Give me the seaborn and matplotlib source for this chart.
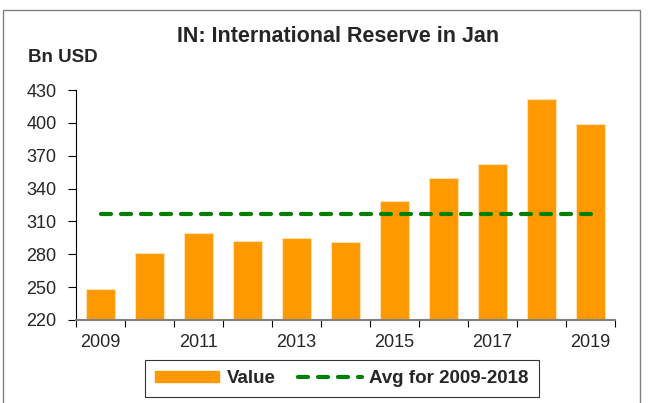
import numpy as np
import pandas as pd
import matplotlib
matplotlib.use("Agg")
import matplotlib.pyplot as plt
import matplotlib.patches as mpatches
from matplotlib.lines import Line2D
import seaborn as sns

# data (Bn USD)
years = ["2009", "2010", "2011", "2012", "2013", "2014",
         "2015", "2016", "2017", "2018", "2019"]
values = [248.5, 280.8, 299.0, 292.5, 295.3, 291.0,
          328.5, 349.3, 362.8, 421.8, 399.2]
avg_values = [317.0] * len(years)
tick_years = ["2009", "2011", "2013", "2015", "2017", "2019"]
y_ticks = [220, 250, 280, 310, 340, 370, 400, 430]

bar_color = "#FF9900"
line_color = "#008000"

sns.set_theme(style="white")
plt.rcParams['font.family'] = ['Liberation Sans', 'DejaVu Sans']

fig = plt.figure(figsize=(6.48, 4.03), dpi=100)
W, H = 648, 403
ax = fig.add_axes([76 / W, 1 - 320 / H, 539 / W, 230 / H])

df = pd.DataFrame({"Year": years, "Value": values})
sns.barplot(data=df, x="Year", y="Value", color=bar_color, saturation=1,
            width=0.58, edgecolor="#FFE0B0", linewidth=0.8, ax=ax)
ax.plot(years, avg_values, color=line_color, lw=3.0,
        linestyle=(0, (2.4, 2.4)), dash_capstyle="round", zorder=3)

ax.set_xlim(-0.5, len(years) - 0.5)
ax.set_ylim(220, 430)
ax.set_yticks(y_ticks)
ax.set_yticklabels([str(v) for v in y_ticks], fontsize=13)

# tick marks between categories, labels on every second year
ax.set_xticks(np.arange(-0.5, len(years), 1.0))
ax.set_xticklabels([])
pos = [years.index(y) for y in tick_years]
ax.set_xticks(pos, minor=True)
ax.set_xticklabels(tick_years, minor=True, fontsize=13)
ax.tick_params(axis="x", which="major", length=5, width=0.8, color="black",
               direction="out", bottom=True)
ax.tick_params(axis="x", which="minor", length=0, pad=10, bottom=True)
ax.tick_params(axis="y", length=6, width=0.8, color="black",
               direction="out", left=True, pad=8)

ax.set_xlabel("")
ax.set_ylabel("")
for s in ["top", "right"]:
    ax.spines[s].set_visible(False)
ax.spines["left"].set_color("black")
ax.spines["left"].set_linewidth(0.8)
ax.spines["bottom"].set_color("#808080")
ax.spines["bottom"].set_linewidth(1.5)

fig.text(338 / W, 1 - 37 / H, "IN: International Reserve in Jan",
         ha="center", va="center", fontsize=15.5, fontweight="bold")
fig.text(28 / W, 1 - 58 / H, "Bn USD", ha="left", va="center",
         fontsize=13.5, fontweight="bold")

handles = [mpatches.Patch(color=bar_color, label="Value"),
           Line2D([0], [0], color=line_color, lw=3.0,
                  linestyle=(0, (2.4, 2.4)), dash_capstyle="round",
                  label="Avg for 2009-2018")]
leg = fig.legend(handles=handles, loc="center", ncol=2,
                 bbox_to_anchor=(342 / W, 1 - 378.5 / H),
                 frameon=True, fancybox=False,
                 prop={"weight": "bold", "size": 13.5},
                 handlelength=3.4, handleheight=0.5, columnspacing=1.2,
                 handletextpad=0.4, borderpad=0.55, borderaxespad=0)
leg.get_frame().set_edgecolor("black")
leg.get_frame().set_linewidth(0.8)
leg._legend_box.sep = 0

# outer chart border
fig.patches.append(mpatches.Rectangle((3 / W, -0.1), 637 / W, 1.1 - 10 / H,
                                      transform=fig.transFigure, fill=False,
                                      edgecolor="#808080", linewidth=1.0))

fig.savefig("out.png", dpi=100)
